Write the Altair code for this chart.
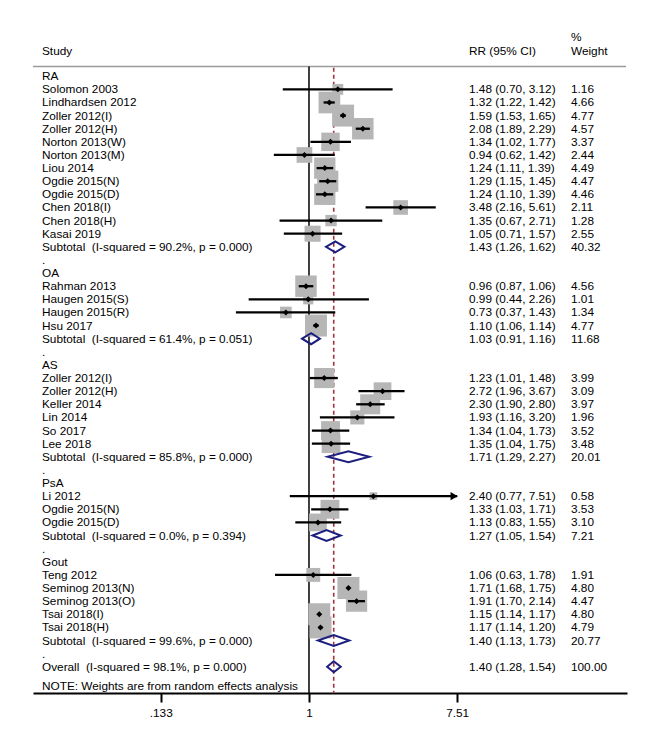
import altair as alt
import pandas as pd

# ---------------- data ----------------
ra_study = ["Solomon 2003", "Lindhardsen 2012", "Zoller 2012(I)", "Zoller 2012(H)", "Norton 2013(W)",
            "Norton 2013(M)", "Liou 2014", "Ogdie 2015(N)", "Ogdie 2015(D)", "Chen 2018(I)",
            "Chen 2018(H)", "Kasai 2019"]
ra_rr = [1.48, 1.32, 1.59, 2.08, 1.34, 0.94, 1.24, 1.29, 1.24, 3.48, 1.35, 1.05]
ra_lo = [0.70, 1.22, 1.53, 1.89, 1.02, 0.62, 1.11, 1.15, 1.10, 2.16, 0.67, 0.71]
ra_hi = [3.12, 1.42, 1.65, 2.29, 1.77, 1.42, 1.39, 1.45, 1.39, 5.61, 2.71, 1.57]
ra_w = [1.16, 4.66, 4.77, 4.57, 3.37, 2.44, 4.49, 4.47, 4.46, 2.11, 1.28, 2.55]

oa_study = ["Rahman 2013", "Haugen 2015(S)", "Haugen 2015(R)", "Hsu 2017"]
oa_rr = [0.96, 0.99, 0.73, 1.10]
oa_lo = [0.87, 0.44, 0.37, 1.06]
oa_hi = [1.06, 2.26, 1.43, 1.14]
oa_w = [4.56, 1.01, 1.34, 4.77]

as_study = ["Zoller 2012(I)", "Zoller 2012(H)", "Keller 2014", "Lin 2014", "So 2017", "Lee 2018"]
as_rr = [1.23, 2.72, 2.30, 1.93, 1.34, 1.35]
as_lo = [1.01, 1.96, 1.90, 1.16, 1.04, 1.04]
as_hi = [1.48, 3.67, 2.80, 3.20, 1.73, 1.75]
as_w = [3.99, 3.09, 3.97, 1.96, 3.52, 3.48]

psa_study = ["Li 2012", "Ogdie 2015(N)", "Ogdie 2015(D)"]
psa_rr = [2.40, 1.33, 1.13]
psa_lo = [0.77, 1.03, 0.83]
psa_hi = [7.51, 1.71, 1.55]
psa_w = [0.58, 3.53, 3.10]

gout_study = ["Teng 2012", "Seminog 2013(N)", "Seminog 2013(O)", "Tsai 2018(I)", "Tsai 2018(H)"]
gout_rr = [1.06, 1.71, 1.91, 1.15, 1.17]
gout_lo = [0.63, 1.68, 1.70, 1.14, 1.14]
gout_hi = [1.78, 1.75, 2.14, 1.17, 1.20]
gout_w = [1.91, 4.80, 4.47, 4.80, 4.79]

group_names = ["RA", "OA", "AS", "PsA", "Gout"]
sub_i2 = ["90.2%", "61.4%", "85.8%", "0.0%", "99.6%"]
sub_p = ["0.000", "0.051", "0.000", "0.394", "0.000"]
sub_rr = [1.43, 1.03, 1.71, 1.27, 1.40]
sub_lo = [1.26, 0.91, 1.29, 1.05, 1.13]
sub_hi = [1.62, 1.16, 2.27, 1.54, 1.73]
sub_w = [40.32, 11.68, 20.01, 7.21, 20.77]

overall_i2 = "98.1%"
overall_p = "0.000"
overall_rr = 1.40
overall_lo = 1.28
overall_hi = 1.54
overall_w = 100.00

tick_values = [0.133, 1, 7.51]
tick_labels = [".133", "1", "7.51"]
note_text = "NOTE: Weights are from random effects analysis"

# ---------------- build tables ----------------
groups = [
    (ra_study, ra_rr, ra_lo, ra_hi, ra_w),
    (oa_study, oa_rr, oa_lo, oa_hi, oa_w),
    (as_study, as_rr, as_lo, as_hi, as_w),
    (psa_study, psa_rr, psa_lo, psa_hi, psa_w),
    (gout_study, gout_rr, gout_lo, gout_hi, gout_w),
]
NBSP = "\u00a0"
xmax_tick = max(tick_values)

text_rows, study_rows, summ_rows = [], [], []
row = 0
for gi, (names, rr, lo, hi, w) in enumerate(groups):
    text_rows.append(dict(row=row, label=group_names[gi], ci="", wt=""))
    row += 1
    for n, r, l, h, ww in zip(names, rr, lo, hi, w):
        text_rows.append(dict(row=row, label=n, ci=f"{r:.2f} ({l:.2f}, {h:.2f})", wt=f"{ww:.2f}"))
        study_rows.append(dict(row=row, rr=r, lo=l, hi=min(h, xmax_tick), w=ww,
                               arrow=int(h >= xmax_tick)))
        row += 1
    lab = f"Subtotal{NBSP} (I-squared = {sub_i2[gi]}, p = {sub_p[gi]})"
    text_rows.append(dict(row=row, label=lab,
                          ci=f"{sub_rr[gi]:.2f} ({sub_lo[gi]:.2f}, {sub_hi[gi]:.2f})",
                          wt=f"{sub_w[gi]:.2f}"))
    summ_rows.append(dict(id=gi, row=row, rr=sub_rr[gi], lo=sub_lo[gi], hi=sub_hi[gi]))
    row += 1
    text_rows.append(dict(row=row, label=".", ci="", wt=""))
    row += 1

text_rows.append(dict(row=row, label=f"Overall{NBSP} (I-squared = {overall_i2}, p = {overall_p})",
                      ci=f"{overall_rr:.2f} ({overall_lo:.2f}, {overall_hi:.2f})",
                      wt=f"{overall_w:.2f}"))
summ_rows.append(dict(id=len(group_names), row=row, rr=overall_rr, lo=overall_lo, hi=overall_hi))

text_df = pd.DataFrame(text_rows)
study_df = pd.DataFrame(study_rows)
arrow_df = study_df[study_df["arrow"] == 1].reset_index(drop=True)

HALF = 0.42  # diamond half height in row units
dia = []
for s in summ_rows:
    for k, (xv, dy) in enumerate([(s["lo"], 0), (s["rr"], -HALF), (s["hi"], 0), (s["rr"], HALF)]):
        dia.append(dict(id=s["id"], seq=k, x=xv, y=s["row"] + dy))
dia_df = pd.DataFrame(dia)

header_df = pd.DataFrame([
    dict(row=-1.93, txt="Study", col="study"),
    dict(row=-1.93, txt="RR (95% CI)", col="ci"),
    dict(row=-3.0, txt="%", col="wt"),
    dict(row=-1.93, txt="Weight", col="wt"),
])

# ---------------- scales ----------------
FONT = "Liberation Sans"
FS = 11.8
X_STUDY, X_CI, X_WT = 9, 436, 538
ROW_TOP, ROW_BOT = -5.2, 47.0
HEADER_LINE = -0.75
X_SCALE = alt.Scale(type="log", domain=[0.0234, 75.7], nice=False)
Y_SCALE = alt.Scale(domain=[ROW_TOP, ROW_BOT], reverse=True, nice=False, zero=False)

label_expr = "[" + ",".join(f"'{t}'" for t in tick_labels) + "][indexof([" + \
    ",".join(str(v) for v in tick_values) + "], datum.value)]"
X_AXIS = alt.Axis(values=tick_values, labelExpr=label_expr, grid=False, title=None,
                  domainColor="black", domainWidth=2, tickColor="black", tickWidth=2,
                  tickSize=9, labelFont=FONT, labelFontSize=FS, labelColor="black",
                  labelPadding=5, labelFlush=False, labelOverlap=False)


def X(field):
    return alt.X(field, type="quantitative", scale=X_SCALE, axis=X_AXIS)


def Y(field):
    return alt.Y(field, type="quantitative", scale=Y_SCALE, axis=None)


vlines_df = pd.DataFrame({"v": [1.0, overall_rr], "kind": ["null", "overall"],
                          "y1": [HEADER_LINE, HEADER_LINE + 0.1], "y2": [ROW_BOT, ROW_BOT]})
hline_df = pd.DataFrame({"row": [HEADER_LINE]})

null_line = alt.Chart(vlines_df[vlines_df.kind == "null"]).mark_rule(
    color="black", strokeWidth=1.5).encode(x=X("v"), y=Y("y1"), y2="y2")
overall_line = alt.Chart(vlines_df[vlines_df.kind == "overall"]).mark_rule(
    color="#a3323c", strokeWidth=1.6, strokeDash=[4, 3]).encode(x=X("v"), y=Y("y1"), y2="y2")
header_line = alt.Chart(hline_df).mark_rule(color="#9b9b9b", strokeWidth=1.5).encode(
    x=alt.value(0), x2=alt.value(593), y=Y("row"))

squares = alt.Chart(study_df).mark_square(color="#b6b6b6", opacity=1, filled=True).encode(
    x=X("rr"), y=Y("row"),
    size=alt.Size("w:Q", scale=alt.Scale(type="linear", domain=[0, 5], range=[0, 505]), legend=None))
ci_lines = alt.Chart(study_df).mark_rule(color="black", strokeWidth=2.3).encode(
    x=X("lo"), x2="hi", y=Y("row"))
points = alt.Chart(study_df).mark_point(shape="diamond", filled=True, color="black",
                                        opacity=1, size=36).encode(x=X("rr"), y=Y("row"))
arrows = alt.Chart(arrow_df).mark_point(shape="triangle-right", filled=True, color="black",
                                        opacity=1, size=70, xOffset=-3).encode(x=X("hi"), y=Y("row"))
diamonds = alt.Chart(dia_df).mark_line(interpolate="linear-closed", color="#1c1f80",
                                       strokeWidth=2, strokeJoin="miter").encode(
    x=X("x"), y=Y("y"), detail="id:N", order="seq:Q")

txt = dict(font=FONT, fontSize=FS, color="black", align="left", baseline="middle")
labels = alt.Chart(text_df).mark_text(**txt).encode(x=alt.value(X_STUDY), y=Y("row"), text="label:N")
ci_text = alt.Chart(text_df).mark_text(**txt).encode(x=alt.value(X_CI), y=Y("row"), text="ci:N")
wt_text = alt.Chart(text_df).mark_text(**txt).encode(x=alt.value(X_WT), y=Y("row"), text="wt:N")

hdr_study = alt.Chart(header_df[header_df.col == "study"]).mark_text(**txt).encode(
    x=alt.value(X_STUDY), y=Y("row"), text="txt:N")
hdr_ci = alt.Chart(header_df[header_df.col == "ci"]).mark_text(**txt).encode(
    x=alt.value(X_CI), y=Y("row"), text="txt:N")
hdr_wt = alt.Chart(header_df[header_df.col == "wt"]).mark_text(**txt).encode(
    x=alt.value(X_WT), y=Y("row"), text="txt:N")

note = alt.Chart(pd.DataFrame({"t": [note_text], "row": [46.49]})).mark_text(**txt).encode(
    x=alt.value(X_STUDY), y=Y("row"), text="t:N")

chart = alt.layer(
    header_line, overall_line, null_line, squares, ci_lines, points, arrows, diamonds,
    labels, ci_text, wt_text, hdr_study, hdr_ci, hdr_wt, note
).properties(
    width=594, height=685,
    padding={"left": 24, "top": 0, "right": 10, "bottom": 10},
    background="white",
).configure_view(strokeWidth=0)

chart.save("out.html", embed_options={"renderer": "svg", "actions": False})
